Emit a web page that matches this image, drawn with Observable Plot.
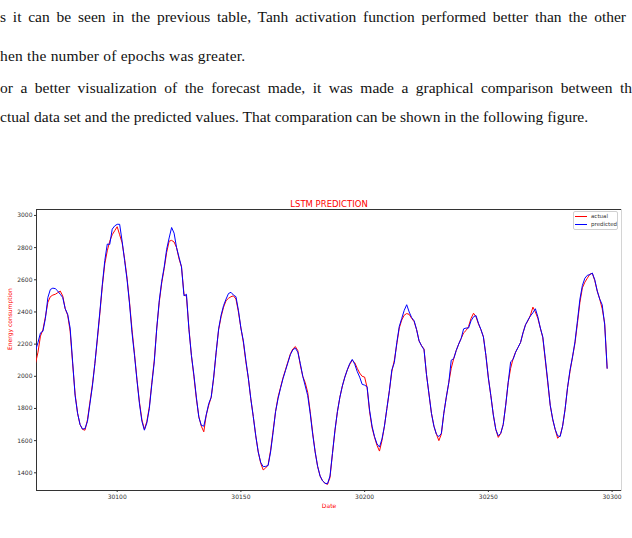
<!DOCTYPE html>
<html>
<head>
<meta charset="utf-8">
<script src="https://cdn.jsdelivr.net/npm/d3@7"></script>
<script src="https://cdn.jsdelivr.net/npm/@observablehq/plot@0.6"></script>
<style>
  html, body { margin: 0; padding: 0; background: #fff; }
  #page { position: relative; width: 632px; height: 538px; overflow: hidden; background: #fff; }
  .txt { position: absolute; left: 0; font-family: "Liberation Serif", "Times New Roman", serif;
         font-size: 15.5px; line-height: 15.5px; color: #111; white-space: nowrap; }
  .just { white-space: normal; text-align: justify; text-align-last: justify; }
  #chart { position: absolute; left: 0; top: 190px; }
  #legend { position: absolute; left: 573px; top: 211px; width: 45px; height: 19px; box-sizing: border-box;
            border: 1px solid #d0d0d0; border-radius: 2px; background: rgba(255,255,255,0.85);
            font-family: "DejaVu Sans", sans-serif; font-size: 5.5px; color: #333; }
  .item { position: absolute; left: 0; height: 6px; width: 44px; }
  .sw { position: absolute; left: 1px; top: 2.5px; width: 12px; height: 0; border-top: 1px solid; }
  .lab { position: absolute; left: 17px; top: -0.5px; line-height: 6px; }
</style>
</head>
<body>
<div id="page">
  <div class="txt just" style="top:9px; width:626px;">s it can be seen in the previous table, Tanh activation function performed better than the other</div>
  <div class="txt" style="top:48px; letter-spacing:0.2px;">hen the number of epochs was greater.</div>
  <div class="txt just" style="top:80px; width:632px;">or a better visualization of the forecast made, it was made a graphical comparison between th</div>
  <div class="txt" style="top:109px;">ctual data set and the predicted values. That comparation can be shown in the following figure.</div>
  <div id="chart"></div>
  <div id="legend"></div>
</div>
<script>
// Hourly energy consumption: actual load and the LSTM forecast
const title = "LSTM PREDICTION";
const xLabel = "Date";
const yLabel = "Energy consumption";
const seriesNames = ["actual", "predicted"];
const seriesColors = ["red", "blue"];

const firstDate = 30067;
const xTicks = [30100, 30150, 30200, 30250, 30300];
const yTicks = [1400, 1600, 1800, 2000, 2200, 2400, 2600, 2800, 3000];
const xDomain = [30067.4, 30303.8];
const yDomain = [1290, 3037];

const actual = [
  2080, 2150, 2250, 2290, 2370, 2460, 2495, 2505, 2510, 2520,
  2530, 2500, 2420, 2380, 2280, 2080, 1890, 1770, 1700, 1670,
  1665, 1730, 1840, 1950, 2080, 2230, 2390, 2560, 2700, 2780,
  2840, 2880, 2905, 2930, 2880, 2830, 2730, 2610, 2460, 2290,
  2140, 1980, 1840, 1730, 1670, 1720, 1810, 1960, 2100, 2300,
  2460, 2580, 2670, 2770, 2840, 2845, 2835, 2800, 2730, 2680,
  2510, 2495, 2300, 2130, 2000, 1860, 1750, 1690, 1655, 1760,
  1820, 1870, 1990, 2150, 2290, 2370, 2430, 2470, 2485, 2495,
  2500, 2480, 2400, 2300, 2210, 2090, 1990, 1860, 1750, 1630,
  1530, 1460, 1418, 1430, 1450, 1540, 1660, 1780, 1870, 1930,
  1990, 2040, 2090, 2140, 2170, 2185, 2160, 2070, 2000, 1960,
  1900, 1780, 1650, 1530, 1440, 1380, 1350, 1335, 1328, 1370,
  1520, 1660, 1780, 1870, 1940, 1995, 2040, 2075, 2100, 2085,
  2050, 2020, 2000, 1995, 1930, 1780, 1680, 1620, 1570, 1535,
  1600, 1690, 1800, 1910, 2030, 2100, 2200, 2300, 2350, 2380,
  2390, 2385, 2360, 2340, 2290, 2220, 2190, 2170, 2010, 1890,
  1770, 1690, 1640, 1600, 1640, 1770, 1870, 1960, 2050, 2110,
  2160, 2200, 2235, 2270, 2285, 2310, 2360, 2392, 2370, 2325,
  2290, 2245, 2130, 1990, 1880, 1760, 1670, 1620, 1645, 1700,
  1820, 1960, 2050, 2110, 2150, 2180, 2210, 2270, 2320, 2345,
  2380, 2430, 2400, 2360, 2300, 2240, 2100, 1960, 1820, 1730,
  1670, 1615, 1630, 1690, 1795, 1930, 2030, 2120, 2205, 2330,
  2460, 2550, 2585, 2610, 2635, 2640, 2595, 2530, 2480, 2420,
  2330, 2050
];

const predicted = [
  2160, 2210, 2270, 2280, 2360, 2490, 2540, 2548, 2545, 2530,
  2510, 2490, 2420, 2385, 2300, 2090, 1880, 1770, 1700, 1672,
  1675, 1720, 1830, 1940, 2080, 2240, 2400, 2570, 2720, 2822,
  2820, 2915, 2935, 2945, 2945, 2840, 2720, 2600, 2450, 2270,
  2130, 1975, 1830, 1720, 1665, 1710, 1800, 1950, 2090, 2300,
  2470, 2590, 2680, 2790, 2860, 2925, 2890, 2800, 2740, 2680,
  2500, 2510, 2290, 2130, 2010, 1870, 1745, 1695, 1690, 1760,
  1830, 1870, 1995, 2150, 2295, 2380, 2440, 2480, 2515, 2522,
  2505, 2495, 2410, 2300, 2220, 2100, 1990, 1860, 1750, 1630,
  1530, 1465, 1438, 1440, 1445, 1530, 1650, 1780, 1860, 1925,
  1985, 2035, 2085, 2135, 2165, 2175, 2150, 2080, 2000, 1940,
  1880, 1770, 1640, 1530, 1440, 1380, 1350, 1335, 1332, 1380,
  1520, 1665, 1780, 1870, 1940, 1995, 2040, 2080, 2105, 2075,
  2030, 1995, 1950, 1945, 1935, 1790, 1690, 1625, 1580, 1560,
  1610, 1690, 1800, 1910, 2040, 2085, 2210, 2310, 2360, 2410,
  2445, 2400, 2365, 2345, 2290, 2220, 2190, 2165, 2010, 1890,
  1770, 1690, 1640, 1625, 1645, 1770, 1870, 1960, 2100, 2110,
  2160, 2200, 2235, 2295, 2300, 2300, 2345, 2370, 2378, 2330,
  2290, 2245, 2130, 1990, 1880, 1760, 1670, 1630, 1645, 1700,
  1820, 1960, 2090, 2105, 2150, 2180, 2210, 2270, 2320, 2350,
  2375, 2395, 2420, 2370, 2300, 2245, 2110, 1970, 1820, 1735,
  1670, 1630, 1625, 1690, 1795, 1930, 2040, 2120, 2215, 2345,
  2480, 2565, 2610, 2628, 2632, 2642, 2600, 2530, 2480, 2445,
  2320, 2050
];

const rows = actual.map((v, i) => ({date: firstDate + i, actual: v, predicted: predicted[i]}));
const fmt = d => String(d);

const chart = Plot.plot({
  width: 632,
  height: 330,
  marginLeft: 36,
  marginRight: 11,
  marginTop: 19,
  marginBottom: 30,
  style: {fontFamily: "'DejaVu Sans', sans-serif", fontSize: "6px", color: "#333", background: "transparent", overflow: "visible"},
  x: {domain: xDomain},
  y: {domain: yDomain},
  marks: [
    Plot.frame({stroke: "#d4d4d4"}),
    Plot.ruleY([yDomain[1]], {stroke: "#333", strokeWidth: 1}),
    Plot.ruleY([yDomain[0]], {stroke: "#333", strokeWidth: 1}),
    Plot.ruleX([xDomain[0]], {stroke: "#333", strokeWidth: 1}),
    Plot.axisX({ticks: xTicks, tickSize: 2, tickPadding: 2, tickFormat: fmt, label: null}),
    Plot.axisY({ticks: yTicks, tickSize: 2, tickPadding: 2, tickFormat: fmt, label: null}),
    Plot.line(rows, {x: "date", y: "actual", stroke: seriesColors[0], strokeWidth: 1, clip: true}),
    Plot.line(rows, {x: "date", y: "predicted", stroke: seriesColors[1], strokeWidth: 1, clip: true}),
    Plot.text([title], {frameAnchor: "top", lineAnchor: "bottom", dy: -3, fill: "red", fontSize: 8.5}),
    Plot.text([yLabel], {frameAnchor: "left", rotate: -90, dx: -26, fill: "red", fontSize: 6}),
    Plot.text([xLabel], {frameAnchor: "bottom", lineAnchor: "top", dy: 13, fill: "red", fontSize: 6})
  ]
});
document.getElementById("chart").appendChild(chart);

// legend box in the upper right corner of the axes
const legend = document.getElementById("legend");
seriesNames.forEach((name, i) => {
  const item = document.createElement("div");
  item.className = "item";
  item.style.top = (1.5 + i * 8.3) + "px";
  const sw = document.createElement("div");
  sw.className = "sw";
  sw.style.borderTopColor = seriesColors[i];
  const lab = document.createElement("div");
  lab.className = "lab";
  lab.textContent = name;
  item.appendChild(sw);
  item.appendChild(lab);
  legend.appendChild(item);
});
</script>
</body>
</html>
